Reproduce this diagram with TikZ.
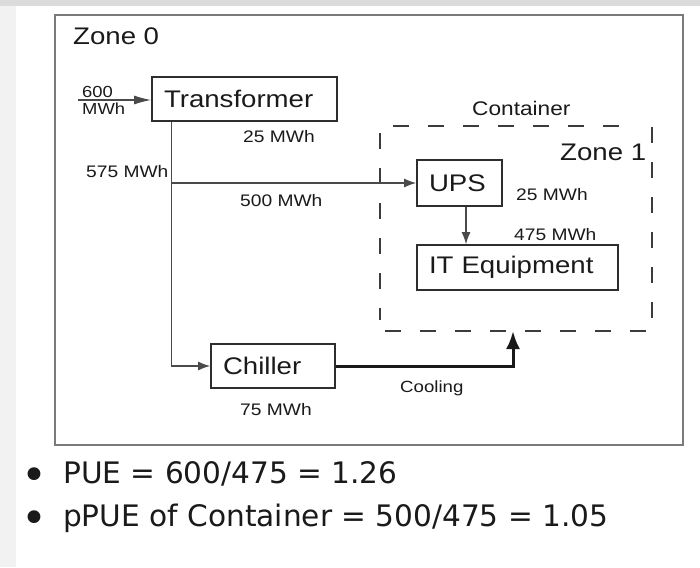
\documentclass[tikz,border=0pt]{standalone}
\usepackage{fontspec}
\setmainfont{Liberation Sans}
\newfontfamily\diagfont[FakeStretch=1.15]{Liberation Sans}
\newfontfamily\bulfont{DejaVu Sans}
\newfontfamily\dotfont{DejaVu Sans}
\usetikzlibrary{arrows.meta,calc}
\definecolor{ink}{HTML}{1A1A1A}
\definecolor{boxc}{HTML}{2E2E2E}
\definecolor{zonec}{HTML}{7A7A7A}
\definecolor{connc}{HTML}{4A4A4A}
\definecolor{dashc}{HTML}{3C3C3C}
\begin{document}
\begin{tikzpicture}[x=1pt,y=-1pt,
  lbl/.style={font=\diagfont\fontsize{#1}{#1}\selectfont, text=ink, inner sep=0pt, anchor=base west},
  box/.style={draw=boxc, line width=1.8pt, inner xsep=12pt, inner ysep=0pt, align=left,
    font=\diagfont\fontsize{24}{28}\selectfont, text=ink},
  conn/.style={draw=connc, line width=1.1pt},
  thintip/.style={-{Latex[length=12pt,width=9pt]}},
  cool/.style={draw=black!90, line width=3pt, -{Latex[length=18pt,width=14pt]}},
  dashline/.style={draw=dashc, line width=2pt, dash pattern=on 16pt off 19pt},
  bul/.style={font=\bulfont\fontsize{29.6}{34}\selectfont, text=ink, inner sep=0pt, anchor=base west},
  dot/.style={font=\dotfont\fontsize{44}{48}\selectfont, text=ink, inner sep=0pt, anchor=base}
]
\useasboundingbox (0,0) rectangle (700,567);
% background
\fill[gray!10] (0,0) rectangle (700,567);
\fill[gray!28] (0,0) rectangle (700,6);
\fill[white] (16,6) rectangle (700,567);
% zone 0 frame
\draw[draw=zonec, line width=1.8pt] (55,15) rectangle (683,445);
\node[lbl=24] (z0) at (73,45) {Zone 0};

% boxes
\node[box, text width=161pt, minimum height=44pt] (tr) at (244.5,99) {Transformer};
\node[box, text width=61pt, minimum height=46pt] (ups) at (459.5,183) {UPS};
\node[box, text width=177pt, minimum height=45pt] (it) at (517.5,267.5) {IT Equipment};
\node[box, text width=100pt, minimum height=44pt] (ch) at (273,366) {Chiller};

% container (dashed)
\draw[dashline] (393,126) -- (636,126);
\draw[dashline] (652,127) -- (652,320);
\draw[dashline] (385,331) -- (652,331);
\draw[dashline] (380,133) -- (380,320);
\node[lbl=19.7] (cont) at (472,115) {Container};
\node[lbl=24] (z1) at (560,160) {Zone 1};

% connectors
\coordinate (in) at (78,100);
\draw[conn, -{Latex[length=17pt,width=9pt]}] (in) -- (tr.west |- in);
\draw[conn, thintip] ($(tr.south west)+(20,0)$) |- (ch.west);
\coordinate (split) at (172,183);
\draw[conn, thintip] (split) -- (ups.west);
\coordinate (upsout) at ($(ups.south)+(6.5,0)$);
\draw[conn, thintip] (upsout) -- (upsout |- it.north);
\coordinate (cin) at (513,331);
\draw[cool] (ch.east) -| (cin);

% labels
\node[lbl=16] (l600) at (82,97) {600};
\node[lbl=16] (lmwh) at (82,114.5) {MWh};
\node[lbl=16.7] (l25a) at (243,142) {25 MWh};
\node[lbl=16.7] (l575) at (86,177) {575 MWh};
\node[lbl=16.7] (l500) at (240,206) {500 MWh};
\node[lbl=16.7] (l25b) at (516,200) {25 MWh};
\node[lbl=16.7] (l475) at (514,240) {475 MWh};
\node[lbl=16.2] (lcool) at (400,392) {Cooling};
\node[lbl=16.7] (l75) at (240,415) {75 MWh};

% bullets
\node[dot] (b1) at (34,490) {•};
\node[bul] (t1) at (63,483) {PUE = 600/475 = 1.26};
\node[dot] (b2) at (34,533) {•};
\node[bul] (t2) at (63,526) {pPUE of Container = 500/475 = 1.05};
\end{tikzpicture}
\end{document}
